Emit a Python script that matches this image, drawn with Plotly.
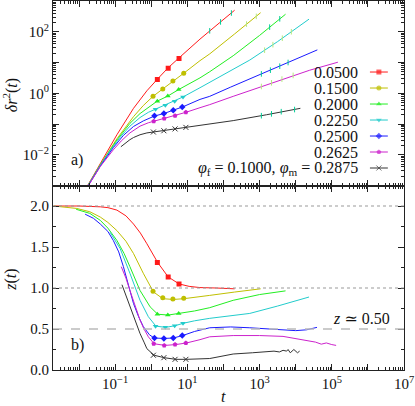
import numpy as np
import plotly.graph_objects as go
from plotly.subplots import make_subplots

# ---- data (log10 t, log10 msd, z) ----
labels = ["0.0500", "0.1500", "0.2000", "0.2250", "0.2500", "0.2625",
          "<i>φ</i><sub>f</sub> = 0.1000, <i>φ</i><sub>m</sub> = 0.2875"]
colors = ["#ff1a1a", "#bfbf00", "#22ee22", "#22cccc", "#1a1aff", "#cc22cc", "#333333"]
symbols = ["square", "circle", "triangle-up", "triangle-down", "diamond", "pentagon", "x-thin-open"]

# mean squared displacement, top panel
msd_t = [
    [-2.0, -1.74, -1.41, -0.95, -0.49, -0.12, 0.18, 0.47, 0.77, 1.35, 1.9, 2.31],
    [-2.0, -1.74, -1.41, -0.95, -0.49, -0.22, 0.05, 0.32, 0.60, 0.90, 1.35, 1.62, 2.3, 3.03],
    [-2.0, -1.74, -1.41, -0.95, -0.59, -0.31, -0.03, 0.16, 0.46, 0.76, 1.35, 1.62, 2.27, 3.0, 3.72],
    [-2.0, -1.74, -1.41, -1.14, -0.86, -0.59, -0.31, -0.08, 0.12, 0.39, 0.65, 0.88, 1.35, 1.62, 2.2, 2.73, 3.5, 4.37],
    [-2.0, -1.74, -1.41, -1.05, -0.77, -0.49, -0.22, 0.09, 0.35, 0.61, 0.86, 1.35, 1.62, 2.2, 2.73, 3.65, 4.60],
    [-2.0, -1.74, -1.41, -1.05, -0.83, -0.59, -0.31, -0.08, 0.07, 0.36, 0.66, 0.96, 1.35, 1.62, 2.27, 3.0, 3.65, 4.39, 5.17],
    [-0.84, -0.7, -0.59, -0.49, -0.31, -0.12, 0.06, 0.35, 0.66, 0.96, 1.35, 1.62, 2.27, 3.19, 3.79, 4.13],
]
msd_v = [
    [-3.49, -2.97, -2.29, -1.35, -0.49, 0.08, 0.47, 0.83, 1.15, 1.76, 2.30, 2.70],
    [-3.49, -2.97, -2.32, -1.48, -0.76, -0.40, -0.10, 0.14, 0.40, 0.65, 1.06, 1.28, 1.92, 2.62],
    [-3.49, -2.97, -2.33, -1.52, -0.98, -0.66, -0.42, -0.26, -0.09, 0.12, 0.50, 0.70, 1.22, 1.88, 2.57],
    [-3.49, -2.97, -2.34, -1.87, -1.43, -1.07, -0.79, -0.62, -0.52, -0.39, -0.26, -0.12, 0.18, 0.36, 0.72, 1.08, 1.68, 2.41],
    [-3.49, -2.98, -2.37, -1.77, -1.37, -1.08, -0.90, -0.74, -0.66, -0.55, -0.45, -0.20, -0.10, 0.20, 0.47, 0.93, 1.41],
    [-3.49, -2.98, -2.38, -1.84, -1.55, -1.29, -1.07, -0.96, -0.91, -0.82, -0.73, -0.62, -0.47, -0.37, -0.10, 0.20, 0.47, 0.75, 1.01],
    [-1.74, -1.60, -1.51, -1.44, -1.35, -1.29, -1.26, -1.22, -1.17, -1.12, -1.06, -1.01, -0.89, -0.70, -0.56, -0.49],
]

# local exponent z(t), bottom panel
z_t = [
    [-2.70, -2.0, -1.41, -1.2, -0.95, -0.7, -0.49, -0.3, -0.12, 0.18, 0.47, 0.77, 1.05, 1.35, 1.8, 2.31],
    [-2.70, -2.06, -1.7, -1.41, -1.2, -0.95, -0.7, -0.49, -0.22, 0.06, 0.32, 0.61, 0.91, 1.35, 1.62, 2.3, 3.03],
    [-2.08, -1.7, -1.41, -1.2, -0.95, -0.75, -0.59, -0.31, -0.03, 0.18, 0.47, 0.77, 1.2, 1.62, 2.27, 3.0, 3.72],
    [-1.14, -0.86, -0.59, -0.31, -0.08, 0.13, 0.40, 0.66, 0.89, 1.2, 1.62, 2.2, 2.73, 3.5, 4.37],
    [-1.83, -1.6, -1.41, -1.2, -1.05, -0.9, -0.77, -0.6, -0.49, -0.35, -0.22, -0.05, 0.08, 0.35, 0.61, 0.87,
     1.2, 1.62, 2.2, 2.73, 3.2, 3.65, 4.0, 4.30, 4.59],
    [-0.83, -0.7, -0.59, -0.45, -0.31, -0.2, -0.08, 0.08, 0.38, 0.68, 0.98, 1.35, 1.62, 2.27, 3.0, 3.65, 4.0,
     4.39, 4.55, 4.71, 4.85, 5.0, 5.12],
    [-0.81, -0.7, -0.59, -0.45, -0.31, -0.2, -0.12, 0.08, 0.36, 0.68, 0.98, 1.62, 2.27, 2.8, 3.19, 3.4, 3.55,
     3.65, 3.75, 3.79, 3.85, 3.95, 4.05, 4.11],
]
z_v = [
    [2.0, 2.0, 1.99, 1.98, 1.95, 1.88, 1.78, 1.67, 1.54, 1.31, 1.135, 1.05, 1.02, 1.005, 1.0, 0.99],
    [2.0, 1.97, 1.93, 1.865, 1.80, 1.70, 1.57, 1.42, 1.18, 0.953, 0.87, 0.86, 0.87, 0.89, 0.91, 0.95, 0.99],
    [1.96, 1.91, 1.825, 1.73, 1.58, 1.42, 1.26, 0.97, 0.77, 0.68, 0.67, 0.69, 0.72, 0.76, 0.85, 0.92, 0.965],
    [1.68, 1.48, 1.18, 0.85, 0.65, 0.535, 0.52, 0.54, 0.57, 0.60, 0.63, 0.66, 0.69, 0.78, 0.89],
    [1.90, 1.85, 1.78, 1.69, 1.58, 1.44, 1.26, 1.0, 0.81, 0.65, 0.53, 0.43, 0.39, 0.385, 0.39, 0.42,
     0.47, 0.515, 0.525, 0.515, 0.50, 0.49, 0.48, 0.49, 0.52],
    [1.26, 1.12, 0.97, 0.78, 0.61, 0.50, 0.405, 0.32, 0.30, 0.31, 0.33, 0.37, 0.405, 0.42, 0.42, 0.41, 0.38,
     0.345, 0.34, 0.315, 0.33, 0.31, 0.30],
    [1.04, 0.91, 0.77, 0.60, 0.445, 0.34, 0.26, 0.18, 0.15, 0.13, 0.13, 0.14, 0.195, 0.21, 0.22, 0.23, 0.22,
     0.24, 0.23, 0.25, 0.21, 0.25, 0.21, 0.23],
]

# big symbols (both panels)
mk_t = [[0.17, 0.47, 0.77], [0.05, 0.32, 0.60, 0.90], [0.17, 0.46, 0.76], [0.12, 0.39, 0.65, 0.88],
        [0.09, 0.35, 0.61, 0.86], [0.07, 0.36, 0.66, 0.96], [0.06, 0.35, 0.66, 0.96]]
mk_msd = [[0.45, 0.81, 1.13], [-0.10, 0.14, 0.40, 0.65], [-0.26, -0.09, 0.12], [-0.52, -0.39, -0.26, -0.12],
          [-0.73, -0.66, -0.55, -0.45], [-0.91, -0.82, -0.73, -0.62], [-1.26, -1.22, -1.16, -1.11]]
mk_z = [[1.31, 1.135, 1.05], [0.96, 0.88, 0.865, 0.875], [0.68, 0.67, 0.69], [0.535, 0.52, 0.54, 0.57],
        [0.39, 0.385, 0.39, 0.42], [0.32, 0.30, 0.31, 0.33], [0.18, 0.15, 0.13, 0.13]]

# small error-bar ticks at long times (top panel)
eb_t = [[1.62, 1.92, 2.22], [2.64, 2.91], [3.28, 3.56], [3.14, 3.37, 3.63, 3.88],
        [3.05, 3.30, 3.56, 3.79], [3.05, 3.33, 3.62, 3.93], [3.05, 3.33, 3.60, 3.97]]
eb_msd = [[2.03, 2.32, 2.61], [2.25, 2.50], [2.15, 2.42], [1.40, 1.58, 1.79, 2.00],
          [0.63, 0.75, 0.88, 1.00], [0.22, 0.34, 0.46, 0.58], [-0.73, -0.67, -0.60, -0.53]]

FONT = "'Liberation Serif', 'Times New Roman', 'DejaVu Serif', serif"
TXT = dict(family=FONT, size=16, color="#111")
TICK = dict(family=FONT, size=15, color="#111")
p10 = lambda a: 10 ** np.array(a)

fig = make_subplots(rows=2, cols=1, shared_xaxes=True, vertical_spacing=0)

for i in range(7):
    c, s = colors[i], symbols[i]
    mk = dict(symbol=s, size=5, color=c, line=dict(color=c, width=1 if i == 6 else 0))
    fig.add_trace(go.Scatter(x=p10(msd_t[i]), y=p10(msd_v[i]), mode="lines",
                             line=dict(color=c, width=1), showlegend=False), row=1, col=1)
    fig.add_trace(go.Scatter(x=p10(mk_t[i]), y=p10(mk_msd[i]), mode="markers",
                             marker=mk, showlegend=False), row=1, col=1)
    fig.add_trace(go.Scatter(x=p10(eb_t[i]), y=p10(eb_msd[i]), mode="markers",
                             marker=dict(symbol="line-ns-open", size=4, line=dict(color=c, width=1)),
                             showlegend=False), row=1, col=1)
    fig.add_trace(go.Scatter(x=p10(z_t[i]), y=z_v[i], mode="lines",
                             line=dict(color=c, width=1), showlegend=False), row=2, col=1)
    fig.add_trace(go.Scatter(x=p10(mk_t[i]), y=mk_z[i], mode="markers",
                             marker=mk, showlegend=False), row=2, col=1)

# hand-made legend (text on the left of the sample), on an overlay axis of the top panel
leg_x0, leg_x1, leg_y0, leg_dy = 0.903, 0.954, 0.615, 0.0867
for i in range(7):
    yy = leg_y0 - i * leg_dy
    fig.add_trace(go.Scatter(x=[leg_x0, (leg_x0 + leg_x1) / 2, leg_x1], y=[yy] * 3,
                             mode="lines+markers", xaxis="x3", yaxis="y3",
                             line=dict(color=colors[i], width=1),
                             marker=dict(symbol=symbols[i], size=[0, 5, 0], color=colors[i],
                                         line=dict(color=colors[i], width=1 if i == 6 else 0)),
                             showlegend=False, cliponaxis=False))
    fig.add_annotation(x=0.875, y=yy, xref="x3", yref="y3", text=labels[i], showarrow=False,
                       xanchor="right", yanchor="middle", font=TXT)

decades = list(range(-3, 8))
minor_vals = [m * 10.0 ** k for k in range(-4, 8) for m in range(2, 10)]
xtext = ["10<sup>%s</sup>" % str(k).replace("-", "−") if k % 2 else "" for k in decades]

axis_common = dict(showline=True, linecolor="#222", linewidth=1, mirror="allticks", ticks="inside",
                   ticklen=6, tickcolor="#222", showgrid=False, zeroline=False, automargin=False,
                   tickfont=TICK)
minor_log = dict(tickmode="array", tickvals=minor_vals, ticks="inside", ticklen=3, tickcolor="#222", showgrid=False)

fig.update_xaxes(type="log", range=[-2.72, 7], tickmode="array", tickvals=[10.0 ** k for k in decades],
                 minor=minor_log, **axis_common)
fig.update_xaxes(ticktext=[""] * len(decades), row=1, col=1)
fig.update_xaxes(ticktext=xtext, row=2, col=1)

ytext = ["10<sup>%s</sup>" % str(k).replace("-", "−") if k % 2 == 0 else "" for k in range(-3, 4)]
fig.update_yaxes(type="log", range=[-3, 3], tickmode="array", tickvals=[10.0 ** k for k in range(-3, 4)],
                 ticktext=ytext, minor=minor_log, row=1, col=1, **axis_common)
fig.update_yaxes(range=[0, 2.25], tickmode="linear", tick0=0, dtick=0.5, tickformat=".1f",
                 minor=dict(dtick=0.25, ticks="inside", ticklen=3, tickcolor="#222", showgrid=False),
                 row=2, col=1, **axis_common)

# axis titles as annotations (fixed positions)
fig.add_annotation(x=-0.122, y=0.745, xref="paper", yref="paper", text="<i>δr</i><sup>2</sup>(<i>t</i>)",
                   textangle=-90, showarrow=False, xanchor="center", yanchor="middle", font=TXT)
fig.add_annotation(x=-0.122, y=0.245, xref="paper", yref="paper", text="<i>z</i>(<i>t</i>)",
                   textangle=-90, showarrow=False, xanchor="center", yanchor="middle", font=TXT)
fig.add_annotation(x=0.485, y=-0.072, xref="paper", yref="paper", text="<i>t</i>",
                   showarrow=False, xanchor="center", yanchor="middle", font=TXT)

# reference levels in the bottom panel
fig.add_hline(y=2.0, line=dict(color="#999", width=1, dash="dot"), row=2, col=1)
fig.add_hline(y=1.0, line=dict(color="#999", width=1, dash="dot"), row=2, col=1)
fig.add_hline(y=0.5, line=dict(color="#bbb", width=1.5, dash="dash"), row=2, col=1)

fig.add_annotation(x=0.965, y=0.505, xref="x2 domain", yref="y2", text="<i>z</i> ≃ 0.50", showarrow=False,
                   xanchor="right", yanchor="bottom", font=TXT)
fig.add_annotation(x=0.045, y=0.14, xref="x domain", yref="y domain", text="a)", showarrow=False,
                   xanchor="left", yanchor="middle", font=TXT)
fig.add_annotation(x=0.045, y=0.135, xref="x2 domain", yref="y2 domain", text="b)", showarrow=False,
                   xanchor="left", yanchor="middle", font=TXT)

fig.update_layout(
    width=415, height=406,
    margin=dict(l=53, r=11, t=1, b=36),
    paper_bgcolor="white", plot_bgcolor="white",
    xaxis3=dict(overlaying="x", anchor="y3", range=[0, 1], visible=False),
    yaxis3=dict(overlaying="y", anchor="x3", range=[0, 1], visible=False),
    font=dict(family=FONT, color="#111"),
)

# the page's default body margin would shift the figure by 8 px
fig.write_html("out.html", config={"displayModeBar": False},
               post_script="document.body.style.margin='0';document.body.style.overflow='hidden';")
